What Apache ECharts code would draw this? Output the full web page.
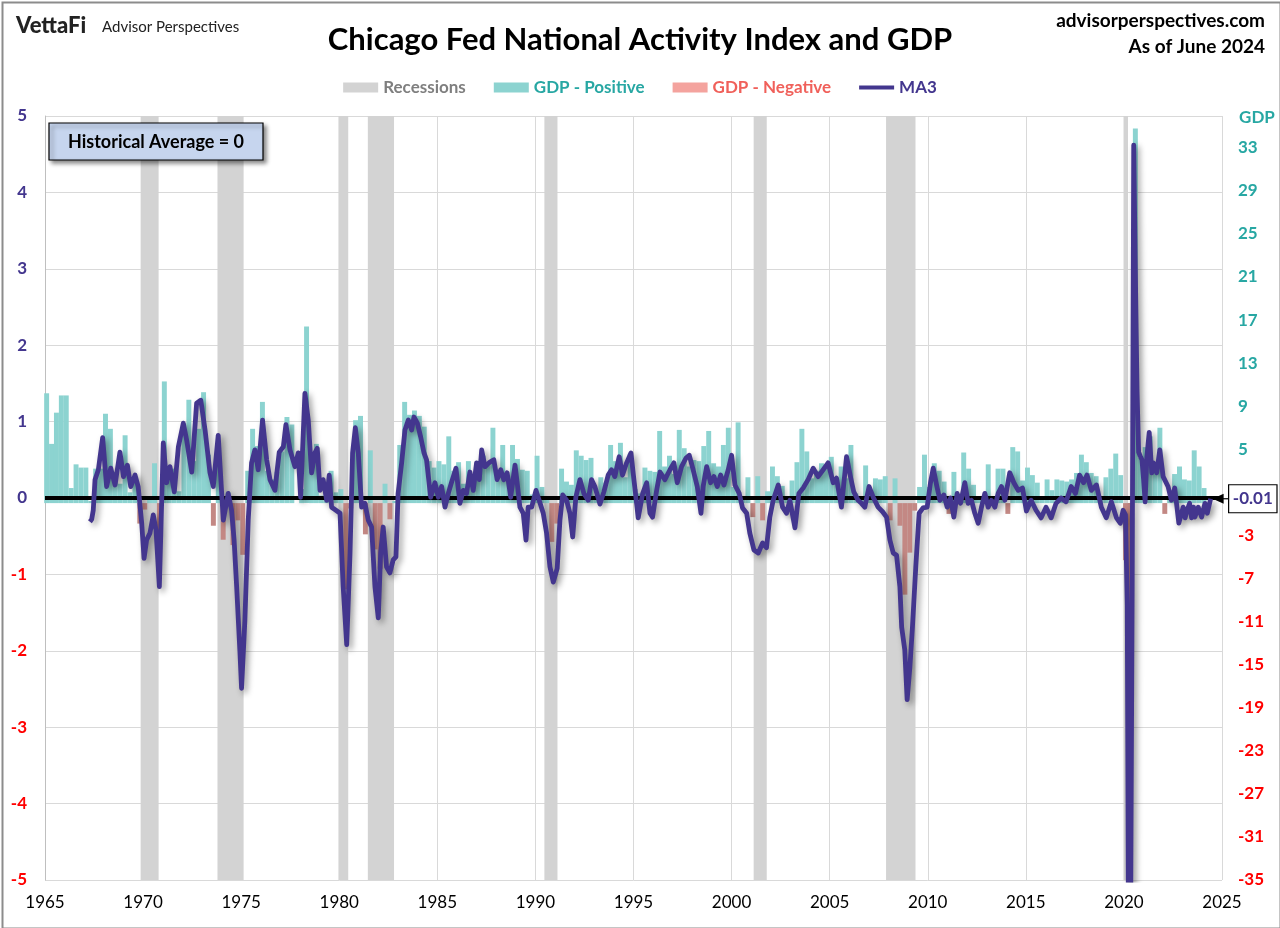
<!DOCTYPE html>
<html>
<head>
<meta charset="utf-8">
<script src="https://cdn.jsdelivr.net/npm/echarts@6/dist/echarts.min.js"></script>
<style>
html,body{margin:0;padding:0;background:#fff;}
#chart{width:1280px;height:928px;}
</style>
</head>
<body>
<div id="chart"></div>
<script>
// ---------- DATA ----------
const gdpStartYear = 1965;
// Real GDP growth, quarterly annualized %, 1965Q1 .. 2024Q1
const gdpValues = [
 10.2, 5.5, 8.4, 10.0,
 10.0, 1.4, 3.6, 3.3,
 3.3, 0.2, 3.2, 3.2,
 8.3, 6.9, 2.9, 1.8,
 6.3, 1.0, 2.5, -1.9,
 -0.6, 0.6, 3.7, -4.2,
 11.3, 2.3, 3.2, 1.1,
 7.4, 9.6, 3.9, 6.9,
 10.3, 4.5, -2.1, 3.8,
 -3.4, 1.0, -3.9, -1.6,
 -4.8, 3.0, 6.9, 5.3,
 9.4, 3.0, 2.2, 2.9,
 4.8, 8.0, 7.3, 0.0,
 1.3, 16.4, 4.1, 5.5,
 0.7, 0.4, 3.0, 1.0,
 1.3, -8.0, -0.5, 7.7,
 8.1, -2.9, 4.9, -4.3,
 -6.1, 1.8, -1.5, 0.2,
 5.4, 9.4, 8.2, 8.6,
 8.1, 7.1, 3.9, 3.3,
 3.9, 3.6, 6.2, 3.0,
 3.8, 1.8, 3.9, 2.2,
 3.0, 4.4, 3.5, 7.0,
 2.1, 5.4, 2.4, 5.4,
 4.1, 3.1, 3.0, 0.8,
 4.4, 1.5, 0.3, -3.6,
 -1.9, 3.2, 2.0, 1.7,
 4.9, 4.4, 4.0, 4.2,
 0.7, 2.4, 1.9, 5.4,
 3.9, 5.6, 2.4, 4.6,
 1.3, 0.9, 3.3, 3.0,
 2.9, 6.7, 3.4, 4.4,
 2.7, 6.8, 5.1, 3.4,
 4.0, 3.9, 5.3, 6.7,
 3.7, 3.4, 5.4, 7.0,
 1.5, 7.5, 0.4, 2.4,
 -1.3, 2.5, -1.6, 1.1,
 3.4, 2.5, 1.6, 0.5,
 2.1, 3.8, 6.9, 4.8,
 2.3, 3.0, 3.7, 3.5,
 4.3, 2.1, 3.4, 2.3,
 5.4, 0.9, 0.6, 3.5,
 0.9, 2.3, 2.2, 2.5,
 -1.6, 2.3, -2.1, -8.5,
 -4.6, -0.7, 1.5, 4.5,
 1.5, 3.7, 3.0, 2.0,
 -1.0, 2.9, -0.1, 4.7,
 3.2, 1.7, 0.5, 0.5,
 3.6, 0.5, 3.2, 3.2,
 -1.0, 5.2, 4.8, 2.1,
 3.3, 2.6, 1.9, 0.5,
 2.2, 1.2, 2.2, 2.1,
 2.0, 2.2, 2.8, 4.5,
 3.8, 2.8, 2.5, 0.6,
 2.4, 3.2, 4.6, 2.6,
 -5.3, -28.0, 34.8, 4.2,
 5.2, 6.2, 3.3, 7.0,
 -1.0, 0.3, 2.7, 3.4,
 2.2, 2.1, 4.9, 3.4,
 1.4
];

// CFNAI 3-month moving average: dates (decimal years) and values
const ma3Dates = [
 1967.29,1967.38,1967.46,1967.55,1967.72,1967.94,1968.14,1968.35,1968.57,1968.82,
 1969.00,1969.20,1969.37,1969.59,1969.75,1969.93,1970.05,1970.18,1970.35,1970.52,
 1970.66,1970.83,1971.03,1971.20,1971.37,1971.59,1971.80,1972.05,1972.22,1972.48,
 1972.73,1972.94,1973.16,1973.41,1973.58,1973.83,1974.09,1974.34,1974.51,1974.64,
 1974.77,1974.94,1975.02,1975.19,1975.36,1975.53,1975.70,1975.87,1976.09,1976.30,
 1976.47,1976.72,1976.94,1977.15,1977.28,1977.49,1977.74,1977.91,1978.03,1978.25,
 1978.42,1978.59,1978.76,1978.88,1979.02,1979.18,1979.36,1979.49,1979.61,1979.83,
 1980.04,1980.20,1980.38,1980.55,1980.68,1980.82,1980.97,1981.14,1981.31,1981.48,
 1981.65,1981.82,1981.99,1982.11,1982.24,1982.41,1982.58,1982.75,1982.89,1983.00,
 1983.18,1983.35,1983.52,1983.69,1983.81,1983.98,1984.15,1984.32,1984.45,1984.66,
 1984.88,1985.05,1985.22,1985.39,1985.56,1985.73,1985.95,1986.15,1986.32,1986.49,
 1986.66,1986.83,1987.00,1987.14,1987.26,1987.43,1987.68,1987.88,1988.05,1988.23,
 1988.39,1988.56,1988.74,1988.96,1989.07,1989.21,1989.38,1989.52,1989.63,1989.81,
 1990.03,1990.19,1990.40,1990.57,1990.74,1990.91,1991.11,1991.25,1991.39,1991.59,
 1991.76,1991.90,1992.06,1992.27,1992.47,1992.69,1992.86,1993.03,1993.29,1993.49,
 1993.71,1993.88,1994.05,1994.27,1994.44,1994.65,1994.87,1995.04,1995.24,1995.47,
 1995.67,1995.84,1995.97,1996.18,1996.35,1996.60,1996.86,1997.06,1997.23,1997.45,
 1997.67,1997.84,1998.04,1998.25,1998.44,1998.55,1998.73,1998.93,1999.10,1999.27,
 1999.44,1999.61,1999.83,2000.00,2000.17,2000.39,2000.56,2000.77,2000.93,2001.14,
 2001.36,2001.58,2001.78,2001.95,2002.12,2002.38,2002.60,2002.80,2002.97,2003.23,
 2003.43,2003.65,2003.90,2004.16,2004.41,2004.67,2004.92,2005.18,2005.35,2005.60,
 2005.86,2006.06,2006.23,2006.45,2006.62,2006.79,2007.01,2007.22,2007.47,2007.70,
 2007.90,2008.07,2008.24,2008.41,2008.58,2008.67,2008.83,2008.95,2009.09,2009.22,
 2009.39,2009.56,2009.76,2009.97,2010.14,2010.28,2010.45,2010.62,2010.82,2010.99,
 2011.16,2011.33,2011.50,2011.67,2011.89,2012.06,2012.23,2012.40,2012.57,2012.74,
 2012.91,2013.08,2013.25,2013.42,2013.59,2013.76,2013.93,2014.18,2014.39,2014.61,
 2014.83,2015.03,2015.27,2015.52,2015.78,2016.03,2016.29,2016.54,2016.80,2017.05,
 2017.31,2017.53,2017.74,2017.94,2018.12,2018.34,2018.60,2018.85,2019.10,2019.36,
 2019.62,2019.82,2019.96,2020.08,2020.17,2020.25,2020.33,2020.42,2020.50,2020.58,
 2020.67,2020.75,2020.83,2020.92,2021.00,2021.08,2021.17,2021.29,2021.42,2021.50,
 2021.67,2021.83,2022.00,2022.25,2022.42,2022.59,2022.80,2023.02,2023.12,2023.22,
 2023.35,2023.45,2023.55,2023.62,2023.79,2023.96,2024.13,2024.25,2024.42
];
const ma3Values = [
 -0.31,-0.28,-0.16,0.24,0.37,0.79,0.15,0.39,0.17,0.60,
 0.28,0.43,0.15,0.30,0.15,-0.33,-0.79,-0.55,-0.46,-0.22,
 -0.42,-1.16,0.72,0.20,0.41,0.08,0.67,0.98,0.76,0.34,
 1.24,1.28,0.89,0.33,0.15,0.82,-0.29,0.06,-0.16,-0.55,
 -1.16,-2.03,-2.49,-1.60,-0.29,0.46,0.63,0.37,1.02,0.50,
 0.24,0.10,0.60,0.67,0.96,0.63,0.41,0.59,0.01,1.37,
 1.02,0.33,0.59,0.65,0.10,0.24,-0.03,0.30,-0.12,-0.16,
 -0.20,-1.16,-1.92,-0.72,0.59,0.92,0.59,-0.12,-0.07,-0.29,
 -0.38,-1.16,-1.57,-0.72,-0.38,-0.90,-0.98,-0.81,-0.77,0.06,
 0.46,0.89,1.02,0.89,1.06,0.98,0.80,0.59,0.50,0.01,
 0.20,0.01,0.15,-0.12,0.06,0.21,0.39,-0.07,0.10,0.06,
 0.34,0.10,0.46,0.24,0.63,0.41,0.47,0.50,0.24,0.37,
 0.24,0.33,0.01,0.43,0.20,-0.12,-0.20,-0.55,-0.12,-0.12,
 0.10,-0.03,-0.20,-0.46,-0.90,-1.10,-0.92,-0.29,0.04,-0.03,
 -0.20,-0.51,0.01,0.24,0.06,-0.03,0.24,0.15,-0.08,0.08,
 0.30,0.37,0.28,0.54,0.30,0.46,0.59,0.20,-0.26,0.06,
 0.20,-0.20,-0.25,0.10,0.34,0.24,0.37,0.46,0.20,0.41,
 0.52,0.56,0.37,0.15,-0.20,0.15,0.41,0.20,0.28,0.15,
 0.30,0.17,0.37,0.56,0.17,0.06,-0.13,-0.20,-0.46,-0.68,
 -0.72,-0.59,-0.65,-0.25,-0.03,0.17,-0.12,-0.20,-0.03,-0.39,
 0.06,0.13,0.24,0.39,0.28,0.37,0.46,0.20,0.26,-0.12,
 0.54,0.28,0.08,-0.03,-0.07,-0.12,0.15,0.01,-0.12,-0.18,
 -0.25,-0.55,-0.72,-0.75,-1.16,-1.69,-1.99,-2.64,-2.21,-1.69,
 -0.90,-0.20,-0.13,-0.12,0.20,0.39,0.17,-0.03,0.04,-0.12,
 0.00,-0.25,0.06,-0.07,0.20,-0.07,-0.03,-0.20,-0.33,-0.12,
 0.06,-0.12,-0.03,-0.12,0.06,0.15,-0.03,0.33,0.20,0.10,
 0.13,-0.17,-0.03,-0.16,-0.26,-0.12,-0.26,-0.07,0.00,-0.05,
 0.15,0.06,0.30,0.20,0.30,0.10,0.17,-0.12,-0.26,-0.05,
 -0.26,-0.33,-0.16,-0.22,-1.40,-6.90,-6.20,-1.20,4.62,3.00,
 1.40,0.60,0.55,0.50,0.25,-0.05,0.54,0.86,0.33,0.46,
 0.33,0.63,0.28,0.15,-0.03,0.13,-0.33,-0.12,-0.26,-0.16,
 -0.07,-0.26,-0.12,-0.25,-0.12,-0.25,-0.07,-0.20,-0.01
];

// NBER recessions (decimal years, as drawn)
const recessionStarts = [1969.875, 1973.792, 1979.958, 1981.458, 1990.458, 2001.125, 2007.875, 2019.98];
const recessionEnds   = [1970.792, 1975.125, 1980.458, 1982.792, 1991.125, 2001.792, 2009.375, 2020.208];

const xTickYears = [1965, 2025, 5];

// ---------- BUILD ----------
const PURPLE = '#43368e';
const TEAL_BAR = '#8cd3d0';
const NEG_BAR = '#c38884';
const TEAL_TXT = '#27a7a3';
const RED_TXT = '#ff0000';
const FONT = 'Lato, "Open Sans", sans-serif';

const gdpPos = [], gdpNeg = [];
gdpValues.forEach((v, i) => {
  const yr = gdpStartYear + Math.floor(i / 4);
  const q = i % 4;
  const x = yr + q / 4 + 1 / 12;
  if (v >= 0) gdpPos.push([x, v]); else gdpNeg.push([x, v]);
});
const ma3Data = ma3Dates.map((d, i) => [d, ma3Values[i]]);
const recAreas = recessionStarts.map((s, i) => [{ xAxis: s }, { xAxis: recessionEnds[i] }]);

const grid = { left: 45, right: 58, top: 116, bottom: 48 };
const plotW = 1280 - grid.left - grid.right;
const barW = plotW / ((xTickYears[1] - xTickYears[0]) * 4) + 0.05;

const chart = echarts.init(document.getElementById('chart'), null, { renderer: 'canvas' });

const option = {
  backgroundColor: '#ffffff',
  animation: false,
  textStyle: { fontFamily: FONT },
  grid: grid,
  legend: {
    top: 74,
    left: 'center',
    itemWidth: 35,
    itemHeight: 10,
    itemGap: 28,
    symbolKeepAspect: true,
    textStyle: { fontSize: 17, fontWeight: 'bold', fontFamily: FONT },
    data: [
      { name: 'Recessions', icon: 'rect', textStyle: { color: '#7f7f7f' } },
      { name: 'GDP - Positive', icon: 'rect', textStyle: { color: TEAL_TXT } },
      { name: 'GDP - Negative', icon: 'rect', itemStyle: { color: '#f4a39e' }, textStyle: { color: '#f0605a' } },
      { name: 'MA3', icon: 'path://M0 0H35V4H0Z', itemStyle: { color: PURPLE }, textStyle: { color: PURPLE } }
    ]
  },
  xAxis: {
    type: 'value',
    min: xTickYears[0], max: xTickYears[1], interval: xTickYears[2],
    axisLine: { show: true, lineStyle: { color: '#bfbfbf', width: 1 } },
    axisTick: { show: false },
    axisLabel: { color: '#000', fontSize: 17, fontFamily: FONT, margin: 14, formatter: v => String(v) },
    splitLine: { show: true, lineStyle: { color: '#d9d9d9', width: 1 } }
  },
  yAxis: [
    {
      type: 'value', min: -5, max: 5, interval: 1, position: 'left',
      axisLine: { show: true, lineStyle: { color: '#bfbfbf' } },
      axisTick: { show: false },
      splitLine: { show: true, lineStyle: { color: '#d9d9d9', width: 1 } },
      axisLabel: {
        margin: 18,
        formatter: v => (v < 0 ? '{n|' + v + '}' : '{p|' + v + '}'),
        rich: {
          n: { color: RED_TXT, fontSize: 17, fontWeight: 'bold', fontFamily: FONT },
          p: { color: PURPLE, fontSize: 17, fontWeight: 'bold', fontFamily: FONT }
        }
      }
    },
    {
      type: 'value', min: -35, max: 35.95, interval: 4, position: 'right',
      axisLine: { show: false }, axisTick: { show: false }, splitLine: { show: false },
      axisLabel: {
        margin: 16,
        formatter: v => {
          const k = (v + 35) / 4;
          if (Math.abs(k - Math.round(k)) > 1e-6) return '';
          const r = Math.round(v);
          if (r === 1) return '';
          return r < 0 ? '{n|' + r + '}' : '{p|' + r + '}';
        },
        rich: {
          n: { color: RED_TXT, fontSize: 17, fontWeight: 'bold', fontFamily: FONT },
          p: { color: TEAL_TXT, fontSize: 17, fontWeight: 'bold', fontFamily: FONT }
        }
      }
    }
  ],
  series: [
    {
      name: 'Recessions', type: 'line', data: [], yAxisIndex: 0, z: 1,
      itemStyle: { color: '#d3d3d3' }, lineStyle: { color: '#d3d3d3' },
      markArea: { silent: true, itemStyle: { color: '#d3d3d3' }, data: recAreas }
    },
    {
      name: 'GDP - Positive', type: 'bar', yAxisIndex: 1, data: gdpPos, z: 2,
      barWidth: barW, barGap: '-100%', itemStyle: { color: TEAL_BAR }
    },
    {
      name: 'GDP - Negative', type: 'bar', yAxisIndex: 1, data: gdpNeg, z: 2,
      barWidth: barW, barGap: '-100%', itemStyle: { color: NEG_BAR }
    },
    {
      name: 'zero', type: 'line', data: [], yAxisIndex: 0, z: 3,
      markLine: {
        silent: true, symbol: ['none', 'none'], label: { show: false },
        lineStyle: { color: '#000', width: 4, type: 'solid' },
        data: [{ yAxis: 0 }]
      }
    },
    {
      name: 'MA3', type: 'line', data: ma3Data, yAxisIndex: 0, z: 5,
      symbol: 'none', showSymbol: false, clip: true,
      itemStyle: { color: PURPLE },
      lineStyle: {
        color: PURPLE, width: 4.8, join: 'round',
        shadowColor: 'rgba(0,0,0,0.4)', shadowBlur: 6, shadowOffsetX: 3, shadowOffsetY: 3
      }
    }
  ]
};
chart.setOption(option);

// ----- annotations -----
const lastPt = ma3Data[ma3Data.length - 1];
const p = chart.convertToPixel({ xAxisIndex: 0, yAxisIndex: 0 }, lastPt);
const tipX = p[0] + 2, cy = p[1];
const boxX = tipX + 16;

chart.setOption({
  graphic: [
    { type: 'rect', left: 0, top: 0, z: 100, silent: true,
      shape: { x: 1, y: 1, width: 1278, height: 926 },
      style: { fill: 'none', stroke: '#8c8c8c', lineWidth: 2 } },
    { type: 'text', x: 16, y: 26, z: 100,
      style: { text: 'VettaFi', font: '900 22px ' + FONT, fill: '#222', textVerticalAlign: 'middle' } },
    { type: 'text', x: 102, y: 27, z: 100,
      style: { text: 'Advisor Perspectives', font: '15px ' + FONT, fill: '#222', textVerticalAlign: 'middle' } },
    { type: 'text', x: 640, y: 40, z: 100,
      style: { text: 'Chicago Fed National Activity Index and GDP', font: 'bold 31px ' + FONT, fill: '#000', textAlign: 'center', textVerticalAlign: 'middle' } },
    { type: 'text', x: 1265, y: 21, z: 100,
      style: { text: 'advisorperspectives.com', font: 'bold 19px ' + FONT, fill: '#000', textAlign: 'right', textVerticalAlign: 'middle' } },
    { type: 'text', x: 1265, y: 47, z: 100,
      style: { text: 'As of June 2024', font: 'bold 19px ' + FONT, fill: '#000', textAlign: 'right', textVerticalAlign: 'middle' } },
    { type: 'text', x: 1257, y: 118, z: 100,
      style: { text: 'GDP', font: 'bold 17px ' + FONT, fill: TEAL_TXT, textAlign: 'center', textVerticalAlign: 'middle' } },
    { type: 'rect', z: 100,
      shape: { x: 49, y: 123, width: 214, height: 37 },
      style: { fill: '#c6d5ee', stroke: '#000', lineWidth: 1.2,
        shadowColor: 'rgba(0,0,0,0.45)', shadowBlur: 4, shadowOffsetX: 3, shadowOffsetY: 3 } },
    { type: 'text', x: 156, y: 142, z: 101,
      style: { text: 'Historical Average = 0', font: 'bold 18px ' + FONT, fill: '#000', textAlign: 'center', textVerticalAlign: 'middle' } },
    { type: 'polygon', z: 100,
      shape: { points: [[tipX, cy], [tipX + 11, cy - 5], [tipX + 11, cy + 5]] },
      style: { fill: '#000' } },
    { type: 'line', z: 100,
      shape: { x1: tipX + 10, y1: cy, x2: boxX, y2: cy },
      style: { stroke: '#000', lineWidth: 1.2 } },
    { type: 'rect', z: 100,
      shape: { x: boxX, y: cy - 14, width: 1277 - boxX, height: 28 },
      style: { fill: '#fff', stroke: '#000', lineWidth: 1.2 } },
    { type: 'text', x: (boxX + 1277) / 2, y: cy, z: 101,
      style: { text: lastPt[1].toFixed(2), font: 'bold 17px ' + FONT, fill: PURPLE, textAlign: 'center', textVerticalAlign: 'middle' } }
  ]
});
</script>
</body>
</html>
